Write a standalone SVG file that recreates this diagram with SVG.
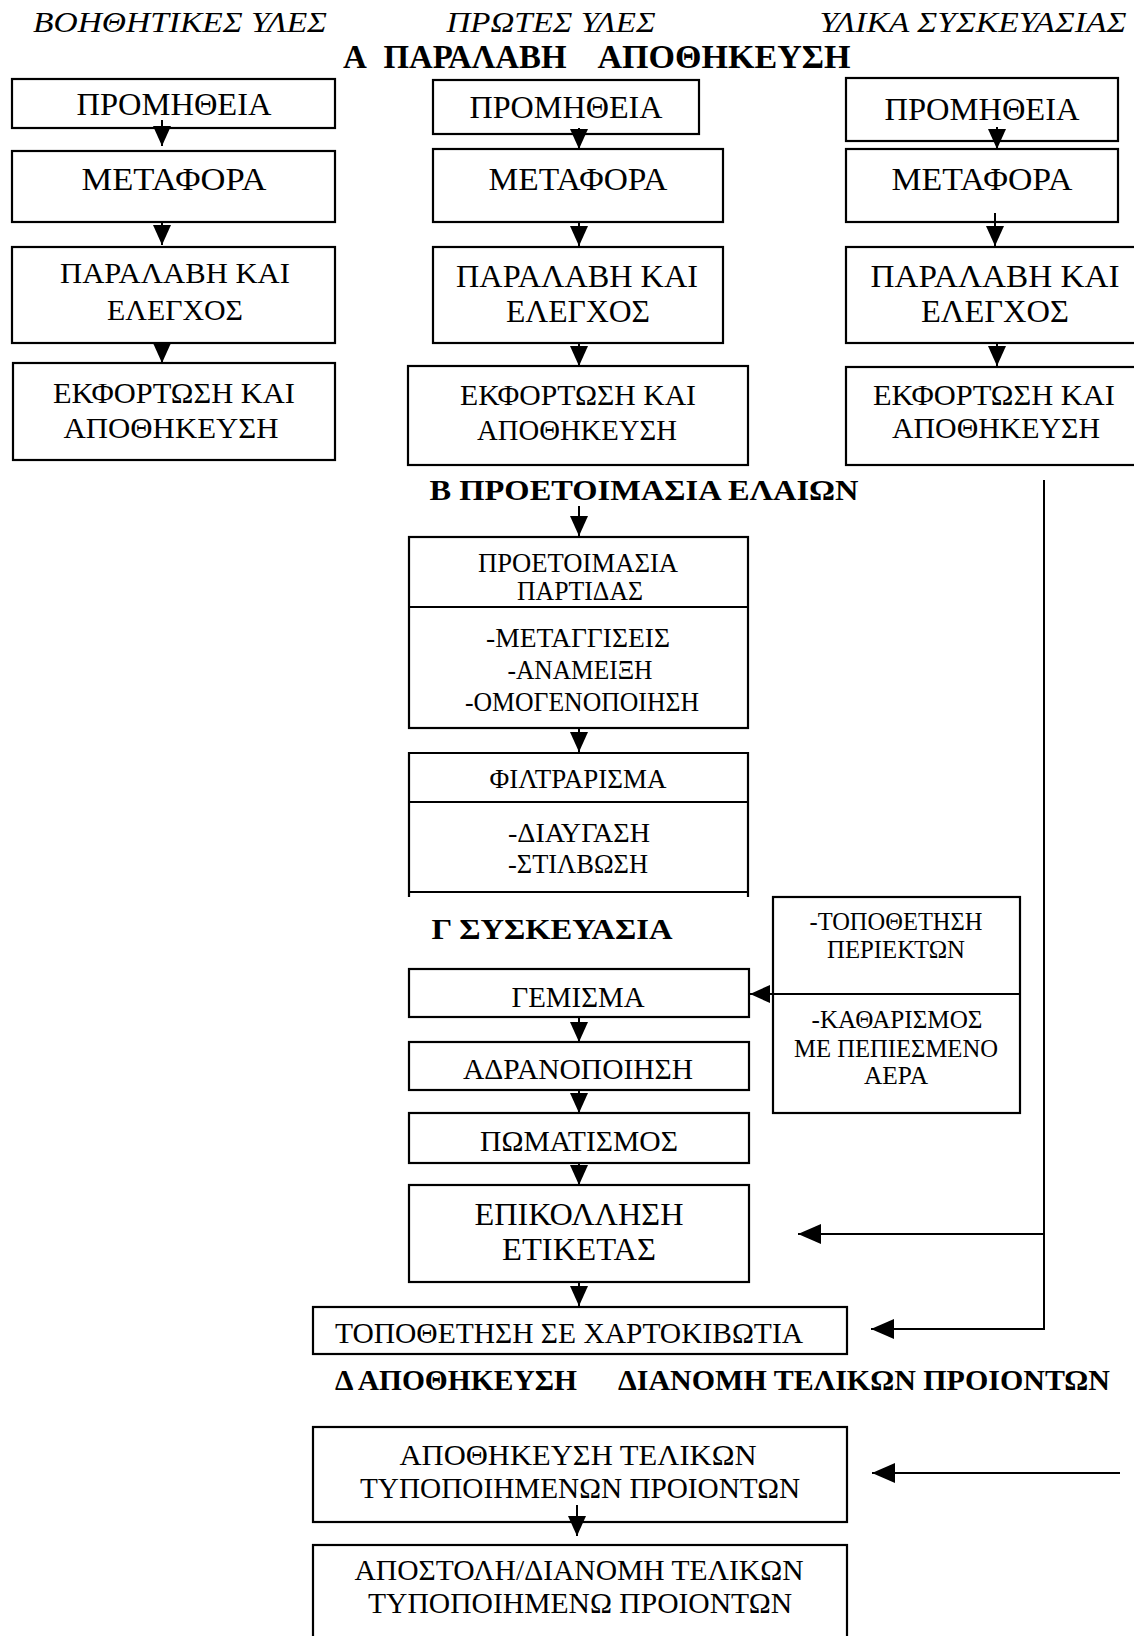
<svg xmlns="http://www.w3.org/2000/svg" width="1134" height="1636" viewBox="0 0 1134 1636">
<style>
.box{fill:none;stroke:#000;stroke-width:2.2}
.t{font-family:"Liberation Serif","Times New Roman",serif;fill:#000;text-anchor:middle}
.it{font-family:"Liberation Serif","Times New Roman",serif;font-style:italic;fill:#000;text-anchor:middle;font-size:29px}
.h{font-family:"Liberation Serif","Times New Roman",serif;font-weight:bold;fill:#000;text-anchor:middle}
.c{fill:none;stroke:#000;stroke-width:2}
</style>
<defs>
<marker id="ah" viewBox="0 0 20 18" refX="20" refY="9" markerWidth="20" markerHeight="18" orient="auto" markerUnits="userSpaceOnUse">
<path d="M0,0 L20,9 L0,18 z" fill="#000"/>
</marker>
<marker id="ahL" viewBox="0 0 23 20" refX="23" refY="10" markerWidth="23" markerHeight="20" orient="auto" markerUnits="userSpaceOnUse">
<path d="M0,0 L23,10 L0,20 z" fill="#000"/>
</marker>
</defs>
<rect width="1134" height="1636" fill="#fff"/>

<g id="labels">
<text class="it" x="180" y="32" textLength="294" lengthAdjust="spacingAndGlyphs">ΒΟΗΘΗΤΙΚΕΣ ΥΛΕΣ</text>
<text class="it" x="551" y="32" textLength="209" lengthAdjust="spacingAndGlyphs">ΠΡΩΤΕΣ ΥΛΕΣ</text>
<text class="it" x="973" y="32" textLength="307" lengthAdjust="spacingAndGlyphs">ΥΛΙΚΑ ΣΥΣΚΕΥΑΣΙΑΣ</text>
</g>

<g id="header-a">
<text class="h" x="355" y="68" font-size="33">Α</text>
<text class="h" x="475" y="68" font-size="33" textLength="183" lengthAdjust="spacingAndGlyphs">ΠΑΡΑΛΑΒΗ</text>
<text class="h" x="724" y="68" font-size="33" textLength="253" lengthAdjust="spacingAndGlyphs">ΑΠΟΘΗΚΕΥΣΗ</text>
</g>

<g id="L1"><rect class="box" x="12" y="79" width="323" height="49"/>
<text class="t" x="174" y="115" font-size="31" textLength="195" lengthAdjust="spacingAndGlyphs">ΠΡΟΜΗΘΕΙΑ</text></g>
<g id="L2"><rect class="box" x="12" y="151" width="323" height="71"/>
<text class="t" x="174" y="190" font-size="31" textLength="185" lengthAdjust="spacingAndGlyphs">ΜΕΤΑΦΟΡΑ</text></g>
<g id="L3"><rect class="box" x="12" y="247" width="323" height="96"/>
<text class="t" x="175" y="283" font-size="30" textLength="230" lengthAdjust="spacingAndGlyphs">ΠΑΡΑΛΑΒΗ ΚΑΙ</text>
<text class="t" x="175" y="320" font-size="30" textLength="136" lengthAdjust="spacingAndGlyphs">ΕΛΕΓΧΟΣ</text></g>
<g id="L4"><rect class="box" x="13" y="363" width="322" height="97"/>
<text class="t" x="174" y="403" font-size="30" textLength="242" lengthAdjust="spacingAndGlyphs">ΕΚΦΟΡΤΩΣΗ ΚΑΙ</text>
<text class="t" x="171" y="438" font-size="30" textLength="215" lengthAdjust="spacingAndGlyphs">ΑΠΟΘΗΚΕΥΣΗ</text></g>

<g id="M1"><rect class="box" x="433" y="80" width="266" height="54"/>
<text class="t" x="566" y="118" font-size="31" textLength="193" lengthAdjust="spacingAndGlyphs">ΠΡΟΜΗΘΕΙΑ</text></g>
<g id="M2"><rect class="box" x="433" y="149" width="290" height="73"/>
<text class="t" x="578" y="190" font-size="31" textLength="179" lengthAdjust="spacingAndGlyphs">ΜΕΤΑΦΟΡΑ</text></g>
<g id="M3"><rect class="box" x="433" y="247" width="290" height="96"/>
<text class="t" x="577" y="287" font-size="31" textLength="242" lengthAdjust="spacingAndGlyphs">ΠΑΡΑΛΑΒΗ ΚΑΙ</text>
<text class="t" x="578" y="322" font-size="31" textLength="144" lengthAdjust="spacingAndGlyphs">ΕΛΕΓΧΟΣ</text></g>
<g id="M4"><rect class="box" x="408" y="366" width="340" height="99"/>
<text class="t" x="578" y="405" font-size="30" textLength="236" lengthAdjust="spacingAndGlyphs">ΕΚΦΟΡΤΩΣΗ ΚΑΙ</text>
<text class="t" x="577" y="440" font-size="30" textLength="200" lengthAdjust="spacingAndGlyphs">ΑΠΟΘΗΚΕΥΣΗ</text></g>

<g id="R1"><rect class="box" x="846" y="78" width="272" height="63"/>
<text class="t" x="982" y="120" font-size="31" textLength="195" lengthAdjust="spacingAndGlyphs">ΠΡΟΜΗΘΕΙΑ</text></g>
<g id="R2"><rect class="box" x="846" y="149" width="272" height="73"/>
<text class="t" x="982" y="190" font-size="31" textLength="181" lengthAdjust="spacingAndGlyphs">ΜΕΤΑΦΟΡΑ</text></g>
<g id="R3"><rect class="box" x="846" y="247" width="300" height="96"/>
<text class="t" x="995" y="287" font-size="31" textLength="249" lengthAdjust="spacingAndGlyphs">ΠΑΡΑΛΑΒΗ ΚΑΙ</text>
<text class="t" x="995" y="322" font-size="31" textLength="148" lengthAdjust="spacingAndGlyphs">ΕΛΕΓΧΟΣ</text></g>
<g id="R4"><rect class="box" x="846" y="367" width="300" height="98"/>
<text class="t" x="994" y="405" font-size="30" textLength="242" lengthAdjust="spacingAndGlyphs">ΕΚΦΟΡΤΩΣΗ ΚΑΙ</text>
<text class="t" x="996" y="438" font-size="30" textLength="208" lengthAdjust="spacingAndGlyphs">ΑΠΟΘΗΚΕΥΣΗ</text></g>

<g id="header-b">
<text class="h" x="644" y="500" font-size="30" textLength="429" lengthAdjust="spacingAndGlyphs">Β ΠΡΟΕΤΟΙΜΑΣΙΑ ΕΛΑΙΩΝ</text>
</g>

<g id="B1"><rect class="box" x="409" y="537" width="339" height="191"/>
<line class="box" x1="409" y1="607" x2="748" y2="607"/>
<text class="t" x="578" y="572" font-size="27.5" textLength="200" lengthAdjust="spacingAndGlyphs">ΠΡΟΕΤΟΙΜΑΣΙΑ</text>
<text class="t" x="580" y="600" font-size="27.5" textLength="126" lengthAdjust="spacingAndGlyphs">ΠΑΡΤΙΔΑΣ</text>
<text class="t" x="578" y="647" font-size="27.5" textLength="184" lengthAdjust="spacingAndGlyphs">-ΜΕΤΑΓΓΙΣΕΙΣ</text>
<text class="t" x="580" y="679" font-size="27.5" textLength="145" lengthAdjust="spacingAndGlyphs">-ΑΝΑΜΕΙΞΗ</text>
<text class="t" x="582" y="711" font-size="27.5" textLength="234" lengthAdjust="spacingAndGlyphs">-ΟΜΟΓΕΝΟΠΟΙΗΣΗ</text></g>

<g id="B2"><path class="box" d="M409,897 V753 H748 V897 M409,892 H748 M409,802 H748"/>
<text class="t" x="578" y="788" font-size="26.5" textLength="177" lengthAdjust="spacingAndGlyphs">ΦΙΛΤΡΑΡΙΣΜΑ</text>
<text class="t" x="579" y="842" font-size="26.5" textLength="142" lengthAdjust="spacingAndGlyphs">-ΔΙΑΥΓΑΣΗ</text>
<text class="t" x="578" y="873" font-size="26.5" textLength="140" lengthAdjust="spacingAndGlyphs">-ΣΤΙΛΒΩΣΗ</text></g>

<g id="header-g">
<text class="h" x="552" y="939" font-size="30" textLength="241" lengthAdjust="spacingAndGlyphs">Γ ΣΥΣΚΕΥΑΣΙΑ</text>
</g>

<g id="S1"><rect class="box" x="773" y="897" width="247" height="216"/>
<line class="box" x1="773" y1="994" x2="1020" y2="994"/>
<text class="t" x="896" y="930" font-size="25" textLength="173" lengthAdjust="spacingAndGlyphs">-ΤΟΠΟΘΕΤΗΣΗ</text>
<text class="t" x="896" y="958" font-size="25" textLength="138" lengthAdjust="spacingAndGlyphs">ΠΕΡΙΕΚΤΩΝ</text>
<text class="t" x="897" y="1028" font-size="25" textLength="171" lengthAdjust="spacingAndGlyphs">-ΚΑΘΑΡΙΣΜΟΣ</text>
<text class="t" x="896" y="1057" font-size="25" textLength="204" lengthAdjust="spacingAndGlyphs">ΜΕ ΠΕΠΙΕΣΜΕΝΟ</text>
<text class="t" x="896" y="1084" font-size="25" textLength="64" lengthAdjust="spacingAndGlyphs">ΑΕΡΑ</text></g>

<g id="G1"><rect class="box" x="409" y="969" width="340" height="48"/>
<text class="t" x="578" y="1007" font-size="29" textLength="133" lengthAdjust="spacingAndGlyphs">ΓΕΜΙΣΜΑ</text></g>
<g id="G2"><rect class="box" x="409" y="1042" width="340" height="48"/>
<text class="t" x="578" y="1079" font-size="29" textLength="230" lengthAdjust="spacingAndGlyphs">ΑΔΡΑΝΟΠΟΙΗΣΗ</text></g>
<g id="G3"><rect class="box" x="409" y="1113" width="340" height="50"/>
<text class="t" x="579" y="1151" font-size="29" textLength="198" lengthAdjust="spacingAndGlyphs">ΠΩΜΑΤΙΣΜΟΣ</text></g>
<g id="G4"><rect class="box" x="409" y="1185" width="340" height="97"/>
<text class="t" x="579" y="1225" font-size="31" textLength="209" lengthAdjust="spacingAndGlyphs">ΕΠΙΚΟΛΛΗΣΗ</text>
<text class="t" x="579" y="1260" font-size="31" textLength="154" lengthAdjust="spacingAndGlyphs">ΕΤΙΚΕΤΑΣ</text></g>

<g id="G5"><rect class="box" x="313" y="1307" width="534" height="47"/>
<text class="t" x="569" y="1343" font-size="30" textLength="468" lengthAdjust="spacingAndGlyphs">ΤΟΠΟΘΕΤΗΣΗ ΣΕ ΧΑΡΤΟΚΙΒΩΤΙΑ</text></g>

<g id="header-d">
<text class="h" x="456" y="1390" font-size="30" textLength="242" lengthAdjust="spacingAndGlyphs">Δ ΑΠΟΘΗΚΕΥΣΗ</text>
<text class="h" x="864" y="1390" font-size="30" textLength="492" lengthAdjust="spacingAndGlyphs">ΔΙΑΝΟΜΗ ΤΕΛΙΚΩΝ ΠΡΟΙΟΝΤΩΝ</text>
</g>

<g id="D1"><rect class="box" x="313" y="1427" width="534" height="95"/>
<text class="t" x="578" y="1465" font-size="30" textLength="357" lengthAdjust="spacingAndGlyphs">ΑΠΟΘΗΚΕΥΣΗ ΤΕΛΙΚΩΝ</text>
<text class="t" x="580" y="1498" font-size="30" textLength="440" lengthAdjust="spacingAndGlyphs">ΤΥΠΟΠΟΙΗΜΕΝΩΝ ΠΡΟΙΟΝΤΩΝ</text></g>
<g id="D2"><rect class="box" x="313" y="1545" width="534" height="120"/>
<text class="t" x="579" y="1580" font-size="30" textLength="449" lengthAdjust="spacingAndGlyphs">ΑΠΟΣΤΟΛΗ/ΔΙΑΝΟΜΗ ΤΕΛΙΚΩΝ</text>
<text class="t" x="580" y="1613" font-size="30" textLength="424" lengthAdjust="spacingAndGlyphs">ΤΥΠΟΠΟΙΗΜΕΝΩ ΠΡΟΙΟΝΤΩΝ</text></g>

<g id="connectors">
<line class="c" x1="162" y1="120" x2="162" y2="146" marker-end="url(#ah)"/>
<line class="c" x1="162" y1="222" x2="162" y2="245" marker-end="url(#ah)"/>
<line class="c" x1="162" y1="343" x2="162" y2="363" marker-end="url(#ah)"/>
<line class="c" x1="579" y1="128" x2="579" y2="149" marker-end="url(#ah)"/>
<line class="c" x1="579" y1="222" x2="579" y2="246" marker-end="url(#ah)"/>
<line class="c" x1="579" y1="343" x2="579" y2="366" marker-end="url(#ah)"/>
<line class="c" x1="997" y1="127" x2="997" y2="149" marker-end="url(#ah)"/>
<line class="c" x1="995" y1="213" x2="995" y2="246" marker-end="url(#ah)"/>
<line class="c" x1="997" y1="343" x2="997" y2="366" marker-end="url(#ah)"/>
<line class="c" x1="579" y1="506" x2="579" y2="536" marker-end="url(#ah)"/>
<line class="c" x1="579" y1="728" x2="579" y2="752" marker-end="url(#ah)"/>
<line class="c" x1="773" y1="994" x2="750" y2="994" marker-end="url(#ah)"/>
<line class="c" x1="579" y1="1017" x2="579" y2="1042" marker-end="url(#ah)"/>
<line class="c" x1="579" y1="1090" x2="579" y2="1113" marker-end="url(#ah)"/>
<line class="c" x1="579" y1="1163" x2="579" y2="1185" marker-end="url(#ah)"/>
<line class="c" x1="579" y1="1282" x2="579" y2="1306" marker-end="url(#ah)"/>
<line class="c" x1="577" y1="1505" x2="577" y2="1536" marker-end="url(#ah)"/>
<polyline class="c" points="1044,480 1044,1329 871,1329" marker-end="url(#ahL)"/>
<line class="c" x1="1044" y1="1234" x2="798" y2="1234" marker-end="url(#ahL)"/>
<line class="c" x1="1120" y1="1473" x2="872" y2="1473" marker-end="url(#ahL)"/>
</g>
</svg>
